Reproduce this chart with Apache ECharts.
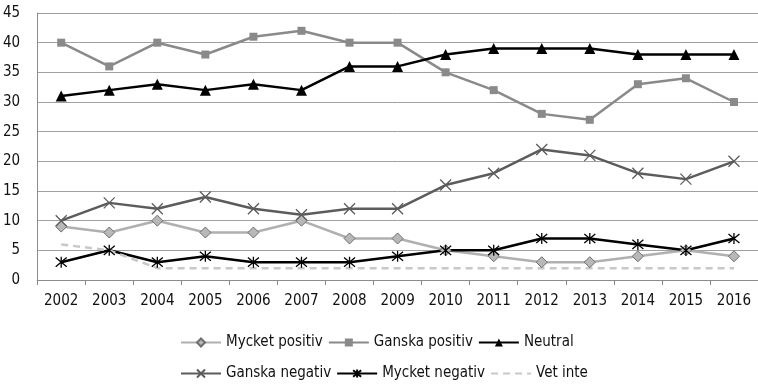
<!DOCTYPE html>
<html>
<head>
<meta charset="utf-8">
<script src="https://cdn.jsdelivr.net/npm/echarts@6/dist/echarts.min.js"></script>
<style>
  html, body { margin: 0; padding: 0; background: #fff; }
  #chart { width: 758px; height: 386px; }
</style>
</head>
<body>
<div id="chart"></div>
<script>
const years = ['2002','2003','2004','2005','2006','2007','2008','2009','2010','2011','2012','2013','2014','2015','2016'];
const mycketPositiv = [9, 8, 10, 8, 8, 10, 7, 7, 5, 4, 3, 3, 4, 5, 4];
const ganskaPositiv = [40, 36, 40, 38, 41, 42, 40, 40, 35, 32, 28, 27, 33, 34, 30];
const neutral = [31, 32, 33, 32, 33, 32, 36, 36, 38, 39, 39, 39, 38, 38, 38];
const ganskaNegativ = [10, 13, 12, 14, 12, 11, 12, 12, 16, 18, 22, 21, 18, 17, 20];
const mycketNegativ = [3, 5, 3, 4, 3, 3, 3, 4, 5, 5, 7, 7, 6, 5, 7];
const vetInte = [6, 5, 2, 2, 2, 2, 2, 2, 2, 2, 2, 2, 2, 2, 2];
const yTicks = [0, 5, 10, 15, 20, 25, 30, 35, 40, 45];

const FONT = '"Liberation Sans Narrow", "DejaVu Sans Condensed", sans-serif';
const crossPath = 'path://M0,0L10,10M10,0L0,10';
const starPath = 'path://M0,0L10,10M10,0L0,10M5,-1L5,11';

const chart = echarts.init(document.getElementById('chart'));

function lineSeries(name, data, color, width, symbol, size, itemStyle, extra) {
  return Object.assign({
    name: name,
    type: 'line',
    data: data,
    symbol: symbol,
    symbolSize: size,
    showSymbol: true,
    animation: false,
    lineStyle: { color: color, width: width },
    itemStyle: itemStyle,
    emphasis: { disabled: true }
  }, extra || {});
}

const series = [
  lineSeries('Mycket positiv', mycketPositiv, '#b0b0b0', 2.5, 'diamond', 11,
    { color: '#b8b8b8', borderColor: '#6e6e6e', borderWidth: 1 }),
  lineSeries('Ganska positiv', ganskaPositiv, '#8a8a8a', 2.5, 'rect', 8,
    { color: '#8a8a8a', borderColor: '#8a8a8a', borderWidth: 0 }),
  lineSeries('Neutral', neutral, '#000000', 2.5, 'triangle', 11,
    { color: '#000000', borderWidth: 0 }),
  lineSeries('Ganska negativ', ganskaNegativ, '#5c5c5c', 2.5, crossPath, 11,
    { color: 'transparent', borderColor: '#5c5c5c', borderWidth: 1.3 }),
  lineSeries('Mycket negativ', mycketNegativ, '#000000', 2.5, starPath, 11,
    { color: 'transparent', borderColor: '#000000', borderWidth: 1.3 }),
  // dashed line without markers (transparent symbol keeps the legend icon clean)
  lineSeries('Vet inte', vetInte, '#c8c8c8', 2.5, 'circle', 0,
    { color: 'rgba(0,0,0,0)', borderWidth: 0 },
    { showSymbol: false, lineStyle: { color: '#c8c8c8', width: 2.5, type: [7, 5] } })
];

const legendCommon = {
  left: 180,
  padding: 0,
  itemWidth: 40,
  itemHeight: 10,
  itemGap: 5,
  textStyle: { fontFamily: FONT, fontSize: 15, color: '#111' },
  selectedMode: false
};

chart.setOption({
  backgroundColor: '#ffffff',
  animation: false,
  grid: { left: 37, right: -4, top: 13, bottom: 106, containLabel: false },
  legend: [
    Object.assign({}, legendCommon, { top: 335, data: ['Mycket positiv', 'Ganska positiv', 'Neutral'] }),
    Object.assign({}, legendCommon, { top: 366, data: ['Ganska negativ', 'Mycket negativ', 'Vet inte'] })
  ],
  xAxis: {
    type: 'category',
    data: years,
    boundaryGap: true,
    axisLine: { lineStyle: { color: '#8c8c8c', width: 1 } },
    axisTick: { show: true, length: 5, lineStyle: { color: '#8c8c8c' } },
    axisLabel: { fontFamily: FONT, fontSize: 15, color: '#111', margin: 14 }
  },
  yAxis: {
    type: 'value',
    min: yTicks[0],
    max: yTicks[yTicks.length - 1],
    interval: 5,
    axisLine: { show: true, lineStyle: { color: '#8c8c8c', width: 1 } },
    axisTick: { show: false },
    splitLine: { lineStyle: { color: '#a0a0a0', width: 1 } },
    axisLabel: { fontFamily: FONT, fontSize: 15, color: '#111', margin: 17 }
  },
  series: series
});
</script>
</body>
</html>
